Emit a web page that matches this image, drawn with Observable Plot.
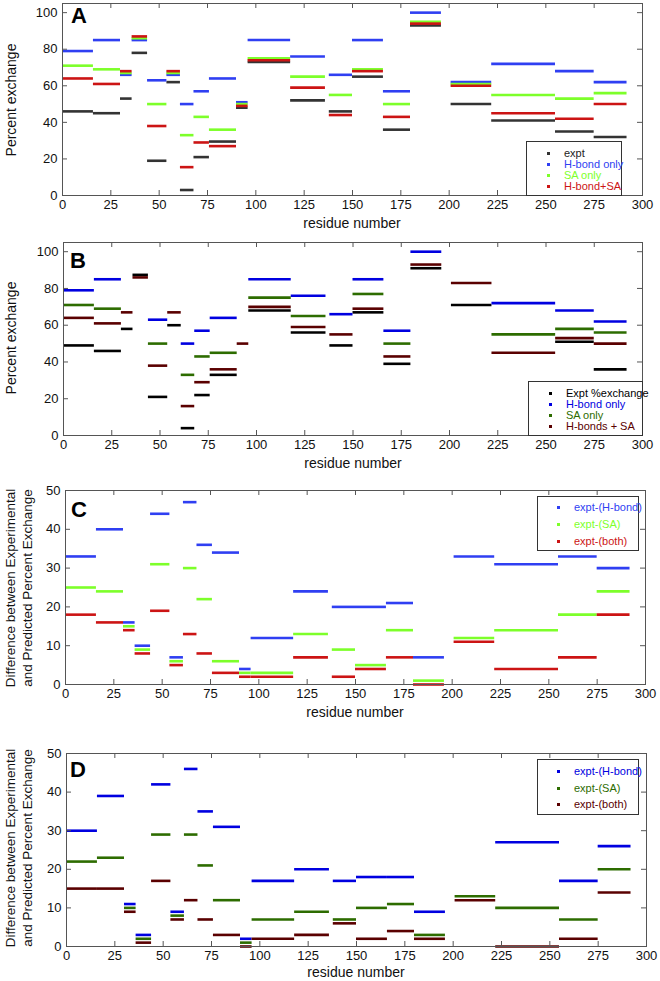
<!DOCTYPE html>
<html><head><meta charset="utf-8">
<script src="https://cdn.jsdelivr.net/npm/d3@7"></script>
<script src="https://cdn.jsdelivr.net/npm/@observablehq/plot@0.6"></script>
<style>
body{margin:0;background:#fff;font-family:"Liberation Sans",Arial,sans-serif;}
#root{position:relative;width:660px;height:981px;overflow:hidden;background:#fff}
.panel{position:absolute;left:0}
.lab{position:absolute;white-space:nowrap;color:#111;font-size:14px}
.letter{position:absolute;font-weight:bold;font-size:22px;line-height:22px;color:#000}
.legend{position:absolute;border:1px solid #333;background:#fff;box-sizing:border-box}
.legend .mk{position:absolute;width:3px;height:3px}
.legend .tx{position:absolute;font-size:11px;line-height:11px;white-space:nowrap}
</style></head><body><div id="root"></div>
<script>
// peptide segments (residue ranges)
const residueStart = [0,16,30,36,44,54,61,68,76,90,96,118,138,150,166,180,201,222,255,275];
const residueEnd   = [16,30,36,44,54,61,68,76,90,96,118,136,150,166,180,196,222,255,275,292];
const xTicks = [0,25,50,75,100,125,150,175,200,225,250,275,300];
const pctTicks = [0,20,40,60,80,100];
const diffTicks = [0,10,20,30,40,50];

// Panel A: percent exchange
const aExpt  = [46,45,53,78,19,62,3,21,29.5,48,73,52,46,65,36,93,50,41,35,32];
const aHbond = [79,85,66,85,63,66,50,57,64,51,85,76,66,85,57,100,62,72,68,62];
const aSA    = [71,69,67,86,50,67,33,43,36,50,75,65,55,69,50,95,61,55,53,56];
const aBoth  = [64,61,68,87,38,68,15.5,29,27,49,74,59,44,68,43,94,60,45,42,50];

// Panel B: percent exchange
const bExpt  = [49,46,58,87.4,21,60,4,22,33,null,68,56,49,67,39,91,71,null,51,36];
const bHbond = [79,85,null,null,63,null,50,57,64,null,85,76,66,85,57,100,null,72,68,62];
const bSA    = [71,69,null,null,50,null,33,43,45,null,75,65,null,77,50,null,null,55,58,56];
const bBoth  = [64,61,67,86,38,67,16,29,36,50,70,59,55,69,43,93,83,45,53,50];

// Panel C: differences
const cHbond = [33,40,16,10,44,7,47,36,34,4,12,24,20,20,21,7,33,31,33,30];
const cSA    = [25,24,15,9,31,6,30,22,6,3,3,13,9,5,14,1,12,14,18,24];
const cBoth  = [18,16,14,8,19,5,13,8,3,2,2,7,2,4,7,0,11,4,7,18];

// Panel D: differences
const dHbond = [30,39,11,3,42,9,46,35,31,2,17,20,17,18,18,9,null,27,17,26];
const dSA    = [22,23,10,2,29,8,29,21,12,1,7,9,7,10,11,3,13,10,7,20];
const dBoth  = [15,15,9,1,17,7,12,7,3,0,2,3,6,2,4,2,12,0,2,14];

const root = document.getElementById("root");
const FONT = "'Liberation Sans', Arial, sans-serif";

function makePanel(p) {
  const innerW = 660 - p.ml - p.mr;
  const innerH = p.h - p.mt - p.mb;
  const marks = [];
  for (const s of p.series) {
    const rows = [];
    s.values.forEach((v, i) => { if (v != null) rows.push({start: residueStart[i], end: residueEnd[i], value: v}); });
    marks.push(Plot.ruleY(rows, {y: "value", x1: "start", x2: "end", stroke: s.color, strokeWidth: 2.6}));
  }
  marks.push(Plot.frame({stroke: "#555"}));
  marks.push(Plot.tickX(xTicks, {x: d => d, insetTop: innerH - 5, stroke: "#555"}));
  marks.push(Plot.tickX(xTicks, {x: d => d, insetBottom: innerH - 5, stroke: "#555"}));
  marks.push(Plot.tickY(p.yTicks, {y: d => d, insetRight: innerW - 5, stroke: "#555"}));
  marks.push(Plot.tickY(p.yTicks, {y: d => d, insetLeft: innerW - 5, stroke: "#555"}));
  marks.push(Plot.axisX(xTicks, {anchor: "bottom", tickSize: 0, tickPadding: 4, label: null, fontSize: 13}));
  marks.push(Plot.axisY(p.yTicks, {anchor: "left", tickSize: 0, tickPadding: 5, label: null, fontSize: 13}));
  const svg = Plot.plot({
    width: 660, height: p.h,
    marginTop: p.mt, marginBottom: p.mb, marginLeft: p.ml, marginRight: p.mr,
    x: {domain: [0, 300]},
    y: {domain: p.yDomain},
    style: {fontFamily: FONT, fontSize: "13px", color: "#111", background: "transparent"},
    marks
  });
  const div = document.createElement("div");
  div.className = "panel";
  div.style.top = p.top + "px";
  div.appendChild(svg);
  root.appendChild(div);
}

function addLabel(text, cx, cy, rotate, extra) {
  const d = document.createElement("div");
  d.className = "lab";
  d.innerHTML = text;
  d.style.left = cx + "px";
  d.style.top = cy + "px";
  d.style.transform = "translate(-50%,-50%)" + (rotate ? " rotate(-90deg)" : "");
  if (extra) Object.assign(d.style, extra);
  root.appendChild(d);
}

function addLetter(t, x, y) {
  const d = document.createElement("div");
  d.className = "letter";
  d.textContent = t;
  d.style.left = x + "px";
  d.style.top = y + "px";
  root.appendChild(d);
}

function addLegend(box, rows) {
  const L = document.createElement("div");
  L.className = "legend";
  Object.assign(L.style, {left: box.left + "px", top: box.top + "px", width: box.w + "px", height: box.h + "px"});
  rows.forEach((r, i) => {
    const cy = box.first + i * box.step;
    const m = document.createElement("div");
    m.className = "mk";
    Object.assign(m.style, {left: (box.mx - 1.5) + "px", top: (cy - 1.5) + "px", background: r.color});
    const t = document.createElement("div");
    t.className = "tx";
    t.textContent = r.label;
    Object.assign(t.style, {left: box.tx + "px", top: (cy - 5.5) + "px", color: r.text || r.color});
    L.appendChild(m); L.appendChild(t);
  });
  root.appendChild(L);
}

const A = {expt: "#333333", hb: "#2f3ff2", sa: "#7dff2a", both: "#cc1414"};
const B = {expt: "#000000", hb: "#0000e0", sa: "#2d6c00", both: "#5a0000"};

// Panel A
makePanel({top: 0, h: 240, mt: 3, mb: 45, ml: 62, mr: 18, yDomain: [0, 105], yTicks: pctTicks,
  series: [{values: aExpt, color: A.expt}, {values: aHbond, color: A.hb}, {values: aSA, color: A.sa}, {values: aBoth, color: A.both}]});
// Panel B
makePanel({top: 240, h: 240, mt: 2, mb: 45, ml: 63, mr: 18, yDomain: [0, 105], yTicks: pctTicks,
  series: [{values: bExpt, color: B.expt}, {values: bHbond, color: B.hb}, {values: bSA, color: B.sa}, {values: bBoth, color: B.both}]});
// Panel C
makePanel({top: 480, h: 245, mt: 10, mb: 41, ml: 65, mr: 15, yDomain: [0, 50], yTicks: diffTicks,
  series: [{values: cHbond, color: A.hb}, {values: cSA, color: A.sa}, {values: cBoth, color: A.both}]});
// Panel D
makePanel({top: 725, h: 256, mt: 28, mb: 35, ml: 66, mr: 14, yDomain: [0, 50], yTicks: diffTicks,
  series: [{values: dHbond, color: B.hb}, {values: dSA, color: B.sa}, {values: dBoth, color: B.both}]});

// axis titles
addLabel("residue number", 352, 223);
addLabel("residue number", 353, 463);
addLabel("residue number", 355, 712);
addLabel("residue number", 356, 972);
addLabel("Percent exchange", 11, 100, true);
addLabel("Percent exchange", 11, 338, true);
const diffTitle = "Difference between Experimental<br>and Predicted Percent Exchange";
addLabel(diffTitle, 18.5, 588, true, {fontSize: "13.5px", lineHeight: "17px", textAlign: "center"});
addLabel(diffTitle, 18.5, 848, true, {fontSize: "13.5px", lineHeight: "17px", textAlign: "center"});

// panel letters
addLetter("A", 71, 5);
addLetter("B", 70, 250);
addLetter("C", 71, 499);
addLetter("D", 70, 759);

// legends
addLegend({left: 526, top: 141, w: 96, h: 55, first: 11, step: 11, mx: 21, tx: 37}, [
  {label: "expt", color: A.expt, text: "#222"},
  {label: "H-bond only", color: A.hb},
  {label: "SA only", color: A.sa},
  {label: "H-bond+SA", color: A.both}]);
addLegend({left: 528, top: 381, w: 115, h: 55, first: 11, step: 11.2, mx: 21, tx: 37}, [
  {label: "Expt %exchange", color: B.expt, text: "#000"},
  {label: "H-bond only", color: B.hb},
  {label: "SA only", color: B.sa},
  {label: "H-bonds + SA", color: B.both}]);
addLegend({left: 537, top: 496, w: 102, h: 55, first: 10.5, step: 17, mx: 20, tx: 36}, [
  {label: "expt-(H-bond)", color: A.hb},
  {label: "expt-(SA)", color: A.sa},
  {label: "expt-(both)", color: A.both}]);
addLegend({left: 537, top: 759, w: 102, h: 56, first: 11.5, step: 16.7, mx: 20, tx: 36}, [
  {label: "expt-(H-bond)", color: B.hb},
  {label: "expt-(SA)", color: B.sa},
  {label: "expt-(both)", color: B.both}]);
</script></body></html>
